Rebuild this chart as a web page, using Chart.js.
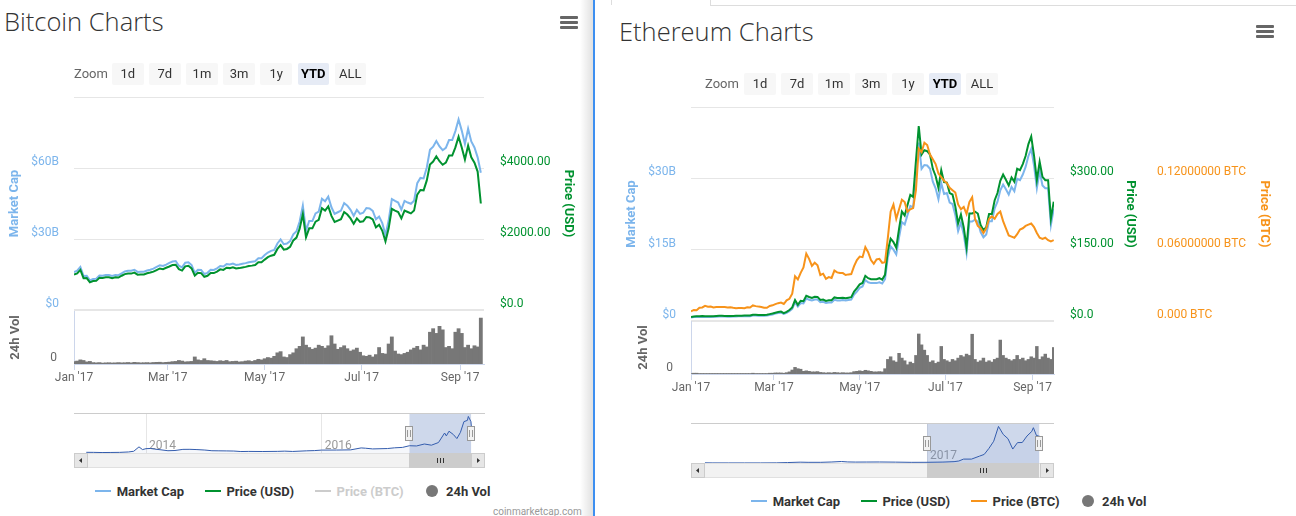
<!DOCTYPE html>
<html lang="en">
<head>
<meta charset="UTF-8">
<title>Bitcoin and Ethereum Charts</title>
<script src="https://cdn.jsdelivr.net/npm/chart.js"></script>
<style>
  html, body { margin: 0; padding: 0; background: #fff; }
  body { position: relative; width: 1296px; height: 516px; overflow: hidden; font-family: Roboto, "Liberation Sans", Arial, sans-serif; }
  canvas { position: absolute; }
  .title { position: absolute; font-family: "Open Sans", Roboto, sans-serif; font-weight: 300; color: #333; white-space: nowrap; line-height: 1; }
  .menu { position: absolute; width: 18px; }
  .menu i { display: block; height: 3px; background: #666; margin-bottom: 2px; border-radius: 1px; }
  .zoomlbl { position: absolute; font-size: 13px; color: #666; line-height: 22px; }
  .btn { position: absolute; height: 22px; line-height: 22px; font-size: 13px; color: #333; background: #f7f7f7; text-align: center; border-radius: 2px; }
  .btn.on { background: #e6ebf5; color: #000; font-weight: bold; }
  .legend { position: absolute; display: flex; align-items: center; height: 16px; font-size: 13px; font-weight: bold; color: #333; white-space: nowrap; }
  .legend .it { display: flex; align-items: center; margin-right: 20.7px; }
  .legend .sym { position: relative; width: 16px; height: 16px; margin-right: 5.7px; }
  .legend .ln { position: absolute; left: 0; top: 7px; width: 16px; height: 2px; }
  .legend .dot { position: absolute; left: 2px; top: 2px; width: 12px; height: 12px; border-radius: 50%; }
  .credit { position: absolute; font-size: 10px; color: #999; line-height: 12px; }
  .rule { position: absolute; background: #ddd; }
</style>
</head>
<body>

<div class="rule" style="left:580px;top:0;width:14px;height:516px;background:linear-gradient(to right, rgba(0,0,0,0), rgba(0,0,0,0.13));"></div>
<div class="rule" style="left:593px;top:0;width:2px;height:516px;background:#3d8ff0;"></div>
<div class="rule" style="left:611px;top:0;width:1px;height:5px;"></div>
<div class="rule" style="left:710px;top:0;width:1px;height:6px;"></div>
<div class="rule" style="left:710px;top:5px;width:586px;height:1px;"></div>

<div class="title" style="left:4px;top:9px;font-size:25.5px;">Bitcoin Charts</div>
<div class="title" style="left:619px;top:19px;font-size:25.5px;">Ethereum Charts</div>
<div class="menu" style="left:560px;top:16px;"><i></i><i></i><i></i></div>
<div class="menu" style="left:1256px;top:25px;"><i></i><i></i><i></i></div>

<canvas id="btcMain" width="594" height="265" style="left:0;top:71px;"></canvas>
<canvas id="btcVol" width="594" height="110" style="left:0;top:285px;"></canvas>
<canvas id="btcNav" width="594" height="65" style="left:0;top:405px;"></canvas>

<canvas id="ethMain" width="701" height="266" style="left:595px;top:81px;"></canvas>
<canvas id="ethVol" width="701" height="110" style="left:595px;top:295px;"></canvas>
<canvas id="ethNav" width="701" height="65" style="left:595px;top:415px;"></canvas>

<div class="credit" style="left:493px;top:506px;">coinmarketcap.com</div>

<script>
// series are sampled every 2 days starting 1 Jan 2017 (x = day of year)
const dayStep = 2;
const monthTicks = [0, 59, 120, 181, 243];
const monthLabels = ["Jan '17", "Mar '17", "May '17", "Jul '17", "Sep '17"];

// ---------- Bitcoin ----------
const btcCap = [
  16.0, 16.6, 18.2, 14.4, 14.5, 12.5, 13.1, 13.2, 14.6, 14.5, 14.8, 14.8, 14.4, 14.8, 14.7, 15.5,
  16.3, 16.6, 16.6, 17.0, 16.1, 16.2, 16.2, 16.7, 17.0, 17.5, 18.2, 18.9, 18.6, 19.2,
  19.9, 20.5, 20.7, 18.7, 18.0, 20.0, 20.2, 19.0, 15.7, 17.0, 16.9, 15.2, 15.7, 17.0, 16.9,
  17.6, 18.6, 18.4, 19.4, 19.2, 19.6, 19.0, 19.2, 19.5, 19.8, 20.2, 20.4, 20.6, 21.9, 21.9,
  23.2, 24.3, 25.0, 25.4, 28.1, 29.8, 27.8, 28.1, 29.1, 32.0, 33.3, 37.4, 44.1, 33.5, 37.6, 37.6,
  40.8, 41.6, 47.0, 45.9, 47.9, 43.4, 40.6, 41.3, 42.0, 45.2, 44.1, 42.3, 39.8, 42.3, 40.6,
  41.1, 43.1, 42.9, 41.9, 38.3, 39.5, 36.7, 31.7, 37.8, 46.9, 46.1, 45.4, 42.4, 46.1, 45.4,
  44.9, 46.2, 53.6, 55.8, 55.6, 60.2, 67.7, 69.0, 71.4, 69.1, 67.5, 68.5, 71.8, 71.8, 75.6, 80.5,
  75.8, 70.2, 76.6, 71.2, 68.7, 64.5, 58.0
];
const btcUsd = [
  998, 1030, 1130, 895, 900, 780, 815, 820, 905, 900, 920, 920, 895, 920, 915, 965,
  1010, 1030, 1025, 1055, 995, 1000, 1000, 1035, 1055, 1080, 1125, 1170, 1150, 1190,
  1225, 1265, 1275, 1150, 1110, 1230, 1245, 1170, 970, 1050, 1040, 935, 965, 1045, 1040,
  1080, 1145, 1130, 1190, 1180, 1205, 1170, 1180, 1200, 1215, 1240, 1250, 1265, 1345, 1345,
  1420, 1490, 1530, 1555, 1720, 1825, 1700, 1720, 1780, 1960, 2040, 2290, 2700, 2050, 2300, 2300,
  2490, 2540, 2870, 2800, 2920, 2650, 2480, 2520, 2560, 2760, 2690, 2580, 2430, 2580, 2480,
  2500, 2620, 2610, 2550, 2330, 2400, 2230, 1930, 2300, 2850, 2800, 2760, 2580, 2800, 2760,
  2720, 2800, 3250, 3380, 3370, 3650, 4100, 4180, 4330, 4190, 4090, 4150, 4350, 4350, 4580, 4880,
  4580, 4240, 4630, 4300, 4150, 3900, 3000
];
const btcVol = [
  0.20, 0.25, 0.35, 0.30, 0.18, 0.22,
  0.12, 0.10, 0.12, 0.08, 0.10, 0.11, 0.09, 0.10, 0.12, 0.10,
  0.11, 0.13, 0.10, 0.14, 0.12, 0.10, 0.11, 0.12, 0.10, 0.13, 0.14, 0.15, 0.12, 0.14,
  0.16, 0.20, 0.22, 0.30, 0.25, 0.18, 0.20, 0.22, 0.60, 0.35, 0.30, 0.45, 0.30, 0.28, 0.25,
  0.22, 0.28, 0.24, 0.30, 0.20, 0.22, 0.24, 0.18, 0.20, 0.25, 0.28, 0.22, 0.30, 0.40, 0.35,
  0.45, 0.55, 0.50, 0.65, 0.95, 1.05, 0.60, 0.55, 0.80, 0.95, 1.30, 1.50, 2.30, 1.60, 1.40, 1.25,
  1.35, 1.60, 1.50, 1.35, 1.55, 2.40, 1.70, 1.25, 1.40, 1.55, 1.30, 1.10, 1.20, 1.35, 1.00,
  0.70, 0.65, 0.75, 0.60, 0.80, 1.40, 0.90, 0.85, 1.70, 2.30, 1.10, 0.85, 0.80, 0.90, 1.00,
  1.20, 1.35, 1.50, 1.20, 1.60, 1.45, 2.70, 3.00, 2.60, 3.20, 2.90, 1.40, 1.50, 1.30, 2.70, 3.00,
  2.60, 1.40, 1.60, 1.30, 1.55, 1.45, 3.90
];
const btcCapTicks = [0, 30, 60, 90];
const btcCapLabels = ['$0', '$30B', '$60B', ''];
const btcUsdTicks = [0, 2000, 4000, 6000];
const btcUsdLabels = ['$0.0', '$2000.00', '$4000.00', ''];
const btcVolMax = 4.5;

const navBtcYears = [2013.32, 2013.40, 2013.50, 2013.60, 2013.70, 2013.80, 2013.86, 2013.92, 2013.96, 2014.00,
  2014.05, 2014.10, 2014.17, 2014.25, 2014.33, 2014.42, 2014.50, 2014.58, 2014.67, 2014.75, 2014.83, 2014.92,
  2015.00, 2015.08, 2015.17, 2015.33, 2015.50, 2015.58, 2015.67, 2015.83, 2015.92, 2016.00, 2016.17, 2016.33,
  2016.45, 2016.50, 2016.58, 2016.75, 2016.83, 2016.92, 2017.00, 2017.08, 2017.17, 2017.25, 2017.33, 2017.40,
  2017.42, 2017.45, 2017.50, 2017.54, 2017.58, 2017.62, 2017.66, 2017.67, 2017.70, 2017.705];
const navBtcCap = [1.5, 1.4, 1.0, 1.2, 1.4, 2.3, 3.8, 13.5, 7.5, 9.5,
  10.0, 8.5, 7.0, 5.0, 5.5, 8.0, 8.1, 7.5, 6.5, 5.0, 4.8, 4.6,
  4.3, 3.2, 3.5, 3.3, 3.6, 4.1, 3.4, 4.8, 5.3, 6.4, 6.5, 6.9,
  11.2, 10.5, 9.0, 9.8, 11.4, 12.3, 16.0, 15.5, 19.8, 17.2, 23.0, 44.0,
  37.6, 47.9, 40.6, 31.7, 45.4, 69.0, 71.8, 80.5, 69.0, 58.0];
const navBtcTicks = [2014, 2016];
const navBtcLabels = ['2014', '2016'];

// ---------- Ethereum ----------
const ethCap = [
  0.71, 0.84, 0.89, 0.86, 0.90, 0.86, 0.85, 0.86, 0.89, 0.91, 0.95, 0.94, 0.92, 0.91, 0.91, 0.93,
  0.96, 0.99, 0.99, 1.00, 1.00, 1.00, 1.15, 1.14, 1.13, 1.12, 1.11, 1.14, 1.28, 1.38,
  1.55, 1.69, 1.75, 1.47, 1.71, 2.04, 2.54, 3.91, 3.02, 3.77, 3.69, 4.71, 4.48, 4.31, 4.53,
  4.54, 3.97, 4.04, 3.79, 3.90, 3.91, 4.45, 4.33, 4.33, 4.40, 4.31, 4.40, 4.49, 5.56, 6.19,
  6.98, 7.25, 8.61, 8.15, 7.97, 7.97, 7.97, 8.15, 7.88, 8.79, 13.4, 15.7, 15.0, 14.0, 17.6, 20.8,
  20.3, 22.3, 24.2, 23.9, 30.8, 37.5, 32.0, 32.8, 32.7, 32.0, 29.3, 27.9, 25.6, 29.0, 26.7,
  26.9, 24.9, 24.6, 22.3, 18.9, 20.7, 18.2, 14.3, 20.9, 20.9, 21.3, 20.9, 18.7, 17.6, 18.2,
  21.0, 21.0, 23.7, 25.1, 27.5, 28.7, 27.7, 26.6, 28.2, 27.3, 29.9, 29.6, 30.8, 32.4, 34.7, 36.2,
  32.7, 27.9, 31.5, 28.5, 27.9, 27.9, 20.2, 23.6
];
const ethUsd = [
  8.2, 9.6, 10.2, 9.9, 10.3, 9.9, 9.8, 9.9, 10.2, 10.5, 10.9, 10.8, 10.6, 10.5, 10.5, 10.7,
  10.9, 11.2, 11.2, 11.4, 11.4, 11.4, 13.1, 12.9, 12.8, 12.7, 12.6, 13.0, 14.5, 15.7,
  17.4, 19.0, 19.7, 16.5, 19.3, 23.0, 28.6, 44.0, 34.0, 42.5, 41.5, 53.0, 50.5, 48.5, 51.0,
  50.6, 44.3, 45.0, 42.3, 43.5, 43.6, 49.6, 48.3, 48.3, 49.0, 48.0, 49.0, 50.0, 62.0, 69.0,
  77, 80, 95, 90, 88, 88, 88, 90, 87, 97, 148, 173, 166, 154, 194, 230,
  222, 244, 265, 261, 337, 410, 350, 359, 357, 350, 320, 305, 280, 317, 292,
  291, 269, 266, 241, 205, 224, 197, 155, 226, 226, 230, 226, 202, 191, 197,
  225, 225, 254, 269, 295, 308, 297, 285, 302, 293, 320, 317, 330, 347, 372, 388,
  348, 296, 335, 303, 296, 296, 215, 251
];
const ethBtc = [
  0.0082, 0.0093, 0.0090, 0.0111, 0.0114, 0.0127, 0.0120, 0.0121, 0.0113, 0.0117, 0.0118, 0.0117, 0.0118, 0.0114, 0.0115, 0.0111,
  0.0108, 0.0109, 0.0109, 0.0108, 0.0115, 0.0114, 0.0131, 0.0125, 0.0121, 0.0118, 0.0112, 0.0111, 0.0126, 0.0132,
  0.0142, 0.0150, 0.0155, 0.0143, 0.0174, 0.0187, 0.0230, 0.0376, 0.0350, 0.0405, 0.0450, 0.0567, 0.0523, 0.0464, 0.0490,
  0.0469, 0.0387, 0.0398, 0.0355, 0.0369, 0.0362, 0.0424, 0.0409, 0.0403, 0.0403, 0.0387, 0.0392, 0.0395, 0.0461, 0.0513,
  0.0542, 0.0537, 0.0621, 0.0579, 0.0512, 0.0482, 0.0518, 0.0523, 0.0489, 0.0495, 0.0700, 0.0920, 0.0980, 0.0860, 0.0940, 0.1020,
  0.1000, 0.0920, 0.0940, 0.0950, 0.1100, 0.1450, 0.1420, 0.1500, 0.1480, 0.1400, 0.1360, 0.1320, 0.1240, 0.1210, 0.1180,
  0.1160, 0.1120, 0.1100, 0.1080, 0.0980, 0.0940, 0.0960, 0.0900, 0.1000, 0.1040, 0.0860, 0.0800, 0.0780, 0.0740, 0.0780,
  0.0860, 0.0880, 0.0860, 0.0900, 0.0920, 0.0840, 0.0780, 0.0720, 0.0710, 0.0700, 0.0730, 0.0770, 0.0780, 0.0800, 0.0810, 0.0820,
  0.0790, 0.0740, 0.0700, 0.0690, 0.0700, 0.0680, 0.0670, 0.0680
];
const ethVol = [
  0.02, 0.03, 0.03, 0.02, 0.02, 0.02, 0.02, 0.02, 0.02, 0.02, 0.02, 0.02, 0.02, 0.02, 0.02, 0.02,
  0.02, 0.02, 0.02, 0.02, 0.02, 0.02, 0.03, 0.02, 0.02, 0.02, 0.02, 0.02, 0.03, 0.03,
  0.04, 0.04, 0.04, 0.03, 0.05, 0.08, 0.15, 0.25, 0.20, 0.18, 0.10, 0.12, 0.10, 0.08, 0.08,
  0.09, 0.06, 0.05, 0.04, 0.05, 0.04, 0.06, 0.05, 0.04, 0.05, 0.04, 0.04, 0.05, 0.09, 0.10,
  0.12, 0.10, 0.14, 0.12, 0.10, 0.08, 0.08, 0.09, 0.08, 0.20, 0.55, 0.65, 0.50, 0.45, 0.78, 0.60,
  0.50, 0.35, 0.45, 0.40, 0.70, 1.51, 1.10, 0.90, 0.70, 0.45, 0.50, 0.40, 0.45, 1.04, 0.55,
  0.50, 0.45, 0.55, 0.50, 0.60, 0.70, 0.65, 0.75, 0.70, 1.50, 0.55, 0.45, 0.50, 0.60, 0.45,
  0.50, 0.45, 0.55, 0.60, 1.28, 0.70, 0.60, 0.55, 0.50, 0.55, 0.70, 0.55, 0.60, 0.50, 0.55, 0.65,
  0.60, 1.04, 0.55, 0.65, 0.75, 0.60, 0.55, 1.00
];
const ethCapTicks = [0, 15, 30, 45];
const ethCapLabels = ['$0', '$15B', '$30B', ''];
const ethUsdTicks = [0, 150, 300, 450];
const ethUsdLabels = ['$0.0', '$150.00', '$300.00', ''];
const ethBtcTicks = [0, 0.06, 0.12, 0.18];
const ethBtcLabels = ['0.000 BTC', '0.06000000 BTC', '0.12000000 BTC', ''];
const ethVolMax = 2.0;

const navEthYears = [2015.60, 2015.65, 2015.75, 2015.85, 2015.95, 2016.05, 2016.12, 2016.20, 2016.25, 2016.33,
  2016.40, 2016.46, 2016.50, 2016.55, 2016.62, 2016.70, 2016.80, 2016.90, 2017.00, 2017.10, 2017.17, 2017.20,
  2017.23, 2017.28, 2017.33, 2017.36, 2017.39, 2017.42, 2017.45, 2017.48, 2017.51, 2017.54, 2017.57, 2017.60,
  2017.63, 2017.66, 2017.67, 2017.69, 2017.70, 2017.705];
const navEthCap = [0.20, 0.09, 0.07, 0.07, 0.07, 0.15, 0.45, 0.85, 0.70, 0.70,
  1.05, 1.55, 1.10, 0.95, 1.00, 1.05, 0.90, 0.68, 0.71, 0.95, 1.38, 2.04,
  4.0, 4.0, 7.0, 8.8, 15.0, 22.3, 37.5, 29.3, 24.9, 14.3, 20.9, 21.0,
  27.7, 32.4, 36.2, 27.9, 27.9, 20.2];
const navEthTicks = [2017];
const navEthLabels = ['2017'];

const zoomLabels = ['1d', '7d', '1m', '3m', '1y', 'YTD', 'ALL'];

const BLUE = '#7cb5ec';
const GREEN = '#00922f';
const ORANGE = '#f7931a';
const VOLCOL = '#777777';

Chart.defaults.font.family = "Roboto, 'Liberation Sans', Arial, sans-serif";
Chart.defaults.animation = false;
Chart.defaults.responsive = false;
Chart.defaults.plugins.legend.display = false;
Chart.defaults.plugins.tooltip.enabled = false;

const toPoints = arr => arr.map((v, i) => ({ x: i * dayStep, y: v }));

function valueAxis(o) {
  return {
    type: 'linear',
    position: o.position,
    min: o.ticks[0],
    max: o.ticks[o.ticks.length - 1],
    afterBuildTicks: s => { s.ticks = o.ticks.map(v => ({ value: v })); },
    afterFit: s => { s.width = o.width; },
    grid: o.grid
      ? { color: '#e6e6e6', drawTicks: false, lineWidth: c => (c.tick && c.tick.value === 0 ? 2 : 1) }
      : { display: false, drawTicks: false },
    border: o.border ? { display: true, color: '#ccd6eb' } : { display: false },
    ticks: { color: o.color, padding: o.pad, labelOffset: -6, font: { size: 12 }, callback: (v, i) => o.labels[i] },
    title: {
      display: true, text: o.title, color: o.titleColor || o.color,
      font: { size: 13, weight: 'bold' }, padding: { top: o.titlePad, bottom: 0 }
    }
  };
}

function timeAxis(xMax) {
  return {
    type: 'linear', min: 0, max: xMax, offset: false,
    afterBuildTicks: s => { s.ticks = monthTicks.map(v => ({ value: v })); },
    afterFit: s => { s.height = 30; },
    grid: { offset: false, drawOnChartArea: false, drawTicks: true, tickLength: 6, color: '#ccd6eb' },
    border: { display: true, color: '#ccd6eb' },
    ticks: { padding: 1, color: '#666', font: { size: 12 }, maxRotation: 0, autoSkip: false, callback: (v, i) => monthLabels[i] }
  };
}

function lineSet(data, color, axis, order) {
  return { data: toPoints(data), yAxisID: axis, borderColor: color, borderWidth: 2, pointRadius: 0, tension: 0, order: order };
}

function volumeChart(id, data, o) {
  return new Chart(document.getElementById(id), {
    type: 'bar',
    data: { datasets: [{ data: toPoints(data), backgroundColor: VOLCOL, borderWidth: 0, barPercentage: 1, categoryPercentage: 1 }] },
    options: {
      layout: { padding: { top: 26, bottom: 1, left: 0, right: o.right } },
      scales: {
        x: timeAxis(o.xMax),
        y: Object.assign(valueAxis({
          position: 'left', width: o.left, ticks: [0, o.yMax], labels: ['0', ''], color: '#666',
          pad: o.pad, title: '24h Vol', titlePad: o.titlePad, border: true
        }), { afterBuildTicks: s => { s.ticks = [{ value: 0 }]; } })
      }
    }
  });
}

// navigator: selection mask, handles, outline and scrollbar placed through the x scale
const navDecor = {
  id: 'navDecor',
  beforeDatasetsDraw(chart, args, opts) {
    const { ctx, chartArea: a, scales: { x } } = chart;
    const x1 = x.getPixelForValue(opts.from), x2 = x.getPixelForValue(opts.to);
    ctx.save();
    ctx.fillStyle = 'rgba(102,133,194,0.32)';
    ctx.fillRect(x1, a.top, x2 - x1, a.bottom - a.top);
    ctx.restore();
  },
  afterDraw(chart, args, opts) {
    const { ctx, chartArea: a, scales: { x } } = chart;
    const x1 = Math.round(x.getPixelForValue(opts.from)), x2 = Math.round(x.getPixelForValue(opts.to));
    const top = Math.round(a.top), sy = Math.round(a.bottom), sh = 15;
    const L = Math.round(a.left), R = Math.round(a.right);
    ctx.save();
    ctx.lineWidth = 1;
    ctx.strokeStyle = '#cccccc';
    ctx.beginPath(); ctx.moveTo(L, top + 0.5); ctx.lineTo(R, top + 0.5); ctx.stroke();
    // scrollbar track
    ctx.fillStyle = '#f2f2f2';
    ctx.fillRect(L, sy, R - L, sh);
    ctx.strokeStyle = '#e0e0e0';
    ctx.strokeRect(L + 0.5, sy + 0.5, R - L - 1, sh - 1);
    // thumb
    ctx.fillStyle = '#cccccc';
    ctx.fillRect(x1, sy, x2 - x1, sh);
    ctx.strokeStyle = '#333';
    const mid = Math.round((x1 + x2) / 2);
    for (const d of [-3, 0, 3]) {
      ctx.beginPath(); ctx.moveTo(mid + d + 0.5, sy + 5); ctx.lineTo(mid + d + 0.5, sy + 10); ctx.stroke();
    }
    // buttons
    for (const bx of [L, R - 14]) {
      ctx.fillStyle = '#e6e6e6';
      ctx.fillRect(bx, sy, 14, sh);
      ctx.strokeStyle = '#cccccc';
      ctx.strokeRect(bx + 0.5, sy + 0.5, 13, sh - 1);
    }
    ctx.fillStyle = '#333';
    ctx.beginPath(); ctx.moveTo(L + 5, sy + 7.5); ctx.lineTo(L + 8, sy + 5); ctx.lineTo(L + 8, sy + 10); ctx.closePath(); ctx.fill();
    ctx.beginPath(); ctx.moveTo(R - 5, sy + 7.5); ctx.lineTo(R - 8, sy + 5); ctx.lineTo(R - 8, sy + 10); ctx.closePath(); ctx.fill();
    // handles
    for (const hx of [x1, x2]) {
      ctx.fillStyle = '#f2f2f2';
      ctx.fillRect(hx - 4, top + 13, 8, 15);
      ctx.strokeStyle = '#999';
      ctx.strokeRect(hx - 3.5, top + 13.5, 7, 14);
      ctx.beginPath();
      ctx.moveTo(hx - 1.5, top + 17); ctx.lineTo(hx - 1.5, top + 24);
      ctx.moveTo(hx + 1.5, top + 17); ctx.lineTo(hx + 1.5, top + 24);
      ctx.stroke();
    }
    ctx.restore();
  }
};

function navChart(id, years, caps, o) {
  return new Chart(document.getElementById(id), {
    type: 'line',
    data: { datasets: [{ data: years.map((x, i) => ({ x: x, y: caps[i] })), borderColor: '#335cad', borderWidth: 1,
      backgroundColor: 'rgba(51,92,173,0.05)', fill: 'origin', pointRadius: 0, tension: 0 }] },
    options: {
      layout: { padding: { top: 8, bottom: 17, left: o.left, right: o.right } },
      plugins: { navDecor: { from: o.from, to: o.to } },
      scales: {
        x: {
          type: 'linear', min: o.min, max: o.max,
          afterBuildTicks: s => { s.ticks = o.ticks.map(v => ({ value: v })); },
          afterFit: s => { s.height = 0; },
          grid: { color: '#e6e6e6', drawTicks: false },
          border: { display: false },
          ticks: { mirror: true, align: 'start', labelOffset: 3, padding: 0, color: '#999', font: { size: 12 }, maxRotation: 0, autoSkip: false,
            callback: (v, i) => o.labels[i] }
        },
        y: { display: false, min: 0, max: o.yMax }
      }
    },
    plugins: [navDecor]
  });
}

// ---------- Bitcoin panel ----------
const btcXMax = 258;
new Chart(document.getElementById('btcMain'), {
  type: 'line',
  data: { datasets: [lineSet(btcUsd, GREEN, 'usd', 1), lineSet(btcCap, BLUE, 'cap', 2)] },
  options: {
    layout: { padding: { top: 26, bottom: 26 } },
    scales: {
      x: { type: 'linear', display: false, min: 0, max: btcXMax },
      cap: valueAxis({ position: 'left', width: 74, ticks: btcCapTicks, labels: btcCapLabels, color: BLUE, pad: 15, title: 'Market Cap', titlePad: 7, grid: true }),
      usd: valueAxis({ position: 'right', width: 110, ticks: btcUsdTicks, labels: btcUsdLabels, color: GREEN, pad: 16, title: 'Price (USD)', titlePad: 18 })
    }
  }
});
volumeChart('btcVol', btcVol, { xMax: btcXMax, left: 74, right: 110, yMax: btcVolMax, pad: 17, titlePad: 8 });
navChart('btcNav', navBtcYears, navBtcCap, {
  left: 74, right: 109, min: 2013.18, max: 2017.86, yMax: 88, ticks: navBtcTicks, labels: navBtcLabels,
  from: 2017, to: 2017 + (btcUsd.length - 1) * dayStep / 365
});

// ---------- Ethereum panel ----------
const ethXMax = 258.2;
new Chart(document.getElementById('ethMain'), {
  type: 'line',
  data: { datasets: [lineSet(ethBtc, ORANGE, 'btc', 0), lineSet(ethUsd, GREEN, 'usd', 1), lineSet(ethCap, BLUE, 'cap', 2)] },
  options: {
    layout: { padding: { top: 26, bottom: 26 } },
    scales: {
      x: { type: 'linear', display: false, min: 0, max: ethXMax },
      cap: valueAxis({ position: 'left', width: 96, ticks: ethCapTicks, labels: ethCapLabels, color: BLUE, pad: 15, title: 'Market Cap', titlePad: 29, grid: true }),
      usd: valueAxis({ position: 'right', width: 91, ticks: ethUsdTicks, labels: ethUsdLabels, color: GREEN, pad: 16, title: 'Price (USD)', titlePad: 7 }),
      btc: valueAxis({ position: 'right', width: 151, ticks: ethBtcTicks, labels: ethBtcLabels, color: ORANGE, pad: 12, title: 'Price (BTC)', titlePad: 24 })
    }
  }
});
volumeChart('ethVol', ethVol, { xMax: ethXMax, left: 96, right: 242, yMax: ethVolMax, pad: 18, titlePad: 41 });
navChart('ethNav', navEthYears, navEthCap, {
  left: 96, right: 242, min: 2015.512, max: 2017.80, yMax: 41, ticks: navEthTicks, labels: navEthLabels,
  from: 2017, to: 2017 + (ethUsd.length - 1) * dayStep / 365
});

// ---------- range buttons and legends ----------
function zoomRow(labelLeft, btnLeft, top, step, width) {
  const lbl = document.createElement('div');
  lbl.className = 'zoomlbl';
  lbl.style.left = labelLeft + 'px';
  lbl.style.top = top + 'px';
  lbl.textContent = 'Zoom';
  document.body.appendChild(lbl);
  zoomLabels.forEach((t, i) => {
    const b = document.createElement('div');
    b.className = 'btn' + (t === 'YTD' ? ' on' : '');
    b.style.left = (btnLeft + i * step) + 'px';
    b.style.top = top + 'px';
    b.style.width = width + 'px';
    b.textContent = t;
    document.body.appendChild(b);
  });
}
zoomRow(74, 112, 63, 37.1, 31.5);
zoomRow(705, 744, 73, 37.0, 32);

function legend(left, top, items) {
  const box = document.createElement('div');
  box.className = 'legend';
  box.style.left = left + 'px';
  box.style.top = top + 'px';
  items.forEach(it => {
    const el = document.createElement('div');
    el.className = 'it';
    const sym = document.createElement('div');
    sym.className = 'sym';
    const mark = document.createElement('div');
    mark.className = it.dot ? 'dot' : 'ln';
    mark.style.background = it.color;
    sym.appendChild(mark);
    const txt = document.createElement('span');
    txt.textContent = it.text;
    if (it.muted) txt.style.color = '#cccccc';
    el.appendChild(sym);
    el.appendChild(txt);
    box.appendChild(el);
  });
  document.body.appendChild(box);
}
legend(95, 483, [
  { text: 'Market Cap', color: BLUE },
  { text: 'Price (USD)', color: GREEN },
  { text: 'Price (BTC)', color: '#cccccc', muted: true },
  { text: '24h Vol', color: VOLCOL, dot: true }
]);
legend(751, 493, [
  { text: 'Market Cap', color: BLUE },
  { text: 'Price (USD)', color: GREEN },
  { text: 'Price (BTC)', color: ORANGE },
  { text: '24h Vol', color: VOLCOL, dot: true }
]);
</script>
</body>
</html>
